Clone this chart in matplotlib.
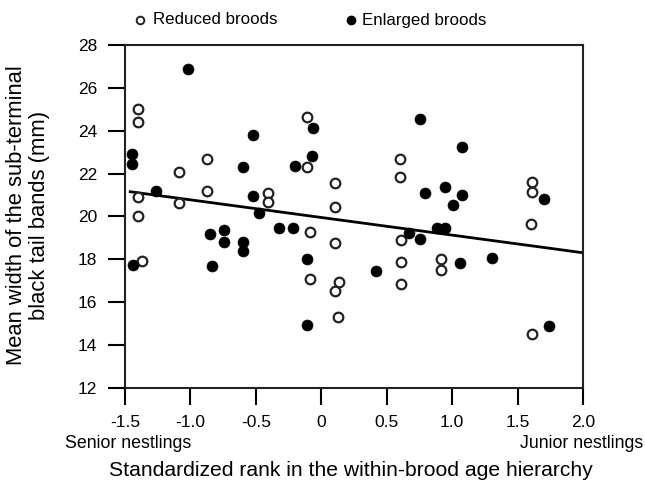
import matplotlib
matplotlib.use("Agg")
import matplotlib.pyplot as plt

plt.rcParams['font.family'] = ['Liberation Sans', 'DejaVu Sans']

# Reduced broods (open circles)
reduced_x = [-1.398, -1.398, -0.876, -1.087, -0.876, -1.398, -1.087, -0.405, -0.405,
             -1.398, -1.373, -0.107, -0.112, 0.601, 0.601, 0.104, 0.104, -0.087,
             0.104, 0.606, 0.606, -0.087, 0.135, 0.104, 0.606, 0.130, 1.607, 1.607,
             1.602, 0.912, 0.912, 1.607]
reduced_y = [25.0, 24.42, 22.66, 22.06, 21.18, 20.92, 20.61, 21.08, 20.68,
             20.02, 17.93, 24.62, 22.29, 22.66, 21.82, 21.57, 20.45, 19.25,
             18.77, 18.90, 17.85, 17.07, 16.93, 16.53, 16.84, 15.30, 21.59, 21.15,
             19.64, 17.99, 17.50, 14.51]

# Enlarged broods (filled circles)
enlarged_x = [-1.016, -0.520, -1.444, -1.444, -0.596, -1.265, -0.520, -0.476, -0.851,
              -0.746, -0.746, -0.596, -0.596, -1.436, -0.833, -0.066, 0.754, -0.074,
              -0.201, 0.792, -0.324, -0.214, 0.670, 0.754, -0.112, 0.415, -0.112,
              1.072, 0.945, 1.072, 1.008, 1.701, 0.881, 0.945, 1.059, 1.306, 1.742]
enlarged_y = [26.88, 23.81, 22.92, 22.44, 22.32, 21.18, 20.96, 20.17, 19.18,
              19.36, 18.80, 18.79, 18.40, 17.73, 17.67, 24.12, 24.54, 22.83,
              22.36, 21.10, 19.44, 19.44, 19.24, 18.94, 18.01, 17.45, 14.91,
              23.24, 21.37, 21.0, 20.53, 20.80, 19.44, 19.44, 17.81, 18.04, 14.89]

# Regression line end points
fit_x = [-1.46, 2.0]
fit_y = [21.15, 18.30]

xticks = [-1.5, -1.0, -0.5, 0.0, 0.5, 1.0, 1.5, 2.0]
xticklabels = ['-1.5', '-1.0', '-0.5', '0', '0.5', '1.0', '1.5', '2.0']
yticks = [12, 14, 16, 18, 20, 22, 24, 26, 28]

W, H = 645, 488
fig = plt.figure(figsize=(W / 100, H / 100), dpi=100)
ax = fig.add_axes([125 / W, 1 - 387.7 / H, (583 - 125) / W, (387.7 - 45) / H])

ax.plot(fit_x, fit_y, color='black', lw=2.0, zorder=2)
ax.scatter(reduced_x, reduced_y, s=48, facecolors='white', edgecolors='#222222',
           linewidths=1.6, zorder=3)
ax.scatter(enlarged_x, enlarged_y, s=62, facecolors='black', edgecolors='black',
           linewidths=0.5, zorder=3)

ax.set_xlim(-1.5, 2.0)
ax.set_ylim(12, 28)
ax.set_xticks(xticks)
ax.set_xticklabels(xticklabels)
ax.set_yticks(yticks)
ax.tick_params(direction='out', length=12, width=1.5, labelsize=12.5, pad=8,
               colors='black')
for sp in ax.spines.values():
    sp.set_linewidth(1.5)
    sp.set_color('#222222')

# Legend (manual, in pixel coordinates of the figure)
leg_ax = fig.add_axes([0, 0, 1, 1], facecolor='none')
leg_ax.set_xlim(0, W)
leg_ax.set_ylim(H, 0)
leg_ax.axis('off')
leg_ax.scatter([140], [20], s=30, facecolors='white', edgecolors='#222222', linewidths=1.4)
leg_ax.scatter([351], [20], s=36, facecolors='black', edgecolors='black')
leg_ax.text(153, 20, 'Reduced broods', fontsize=12.2, va='center', ha='left')
leg_ax.text(362, 20, 'Enlarged broods', fontsize=12.2, va='center', ha='left')

fig.text(65 / W, 1 - 444 / H, 'Senior nestlings', fontsize=12.8, ha='left', va='center')
fig.text(643 / W, 1 - 444 / H, 'Junior nestlings', fontsize=12.8, ha='right', va='center')
fig.text(351 / W, 1 - 471 / H, 'Standardized rank in the within-brood age hierarchy',
         fontsize=15.2, ha='center', va='center')
fig.text(28 / W, 1 - 215 / H, 'Mean width of the sub-terminal\nblack tail bands (mm)',
         fontsize=15.8, ha='center', va='center', rotation=90, linespacing=1.15)

fig.savefig('out.png', dpi=100)
